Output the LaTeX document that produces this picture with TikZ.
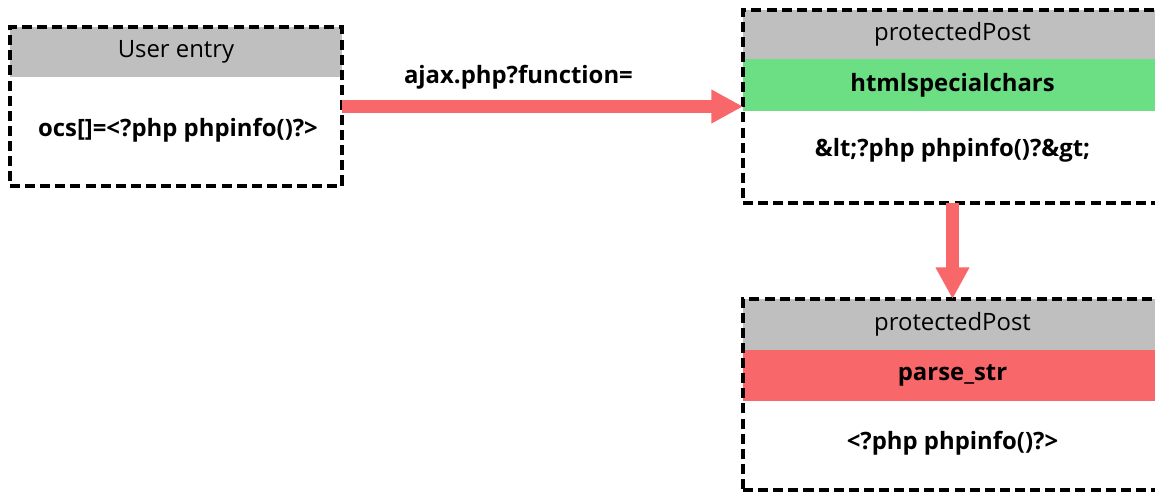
\documentclass[tikz,border=0pt]{standalone}
\usepackage{fontspec}
\setmainfont{Open Sans}
\usetikzlibrary{arrows.meta,positioning,backgrounds}

\definecolor{headgray}{HTML}{BFBFBF}
\definecolor{escgreen}{HTML}{6CDF84}
\definecolor{flowred}{HTML}{F8676A}

\tikzset{
    frame/.style={draw=black, line width=2.3pt, dash pattern=on 5.7pt off 2.9pt,
        inner sep=0pt, outer sep=0pt},
    band/.style={inner sep=0pt, outer sep=0pt, anchor=north, font=\fontsize{13.6}{16}\selectfont},
    bodytext/.style={font=\fontsize{13.6}{16}\selectfont\bfseries},
    flow/.style={draw=flowred, line width=7.4pt,
        -{Triangle[length=18pt, width=18pt]}}
}

\begin{document}
\begin{tikzpicture}[x=0.02cm, y=-0.02cm]
    % Canvas
    \clip (0,0) rectangle (1155,494);

    % Frames
    \node[frame, minimum width=6.64cm, minimum height=3.18cm] (entry) at (176,106.5) {};
    \node[frame, minimum width=8.38cm, minimum height=3.86cm] (post) at (952.5,106.5) {};
    \node[frame, minimum width=8.38cm, minimum height=3.82cm] (parse) at (952.5,394.5) {};

    % Header and filter bands
    \begin{scope}[on background layer]
        \node[band, fill=headgray, minimum width=6.64cm, minimum height=1.0cm] (entryhead) at (entry.north) {User entry};

        \node[band, fill=headgray, minimum width=8.38cm, minimum height=0.98cm] (posthead) at (post.north) {protectedPost};
        \node[band, fill=escgreen, minimum width=8.38cm, minimum height=1.04cm] (postband) at (posthead.south) {\bfseries htmlspecialchars};

        \node[band, fill=headgray, minimum width=8.38cm, minimum height=1.02cm] (parsehead) at (parse.north) {protectedPost};
        \node[band, fill=flowred, minimum width=8.38cm, minimum height=1.02cm] (parseband) at (parsehead.south) {\bfseries parse\_str};
    \end{scope}

    % Payloads
    \node[bodytext] (entrytext) at (178,130) {ocs[]=<?php phpinfo()?>};
    \node[bodytext] (posttext) at (952.5,150) {\&lt;?php phpinfo()?\&gt;};
    \node[bodytext] (parsetext) at (952.5,443) {<?php phpinfo()?>};

    % Request flow
    \draw[flow] (entry.east) -- (entry.east -| post.west)
        node[pos=0.44, above=3pt, bodytext] (call) {ajax.php?function=};
    \draw[flow] (post.south) -- (parse.north);
\end{tikzpicture}
\end{document}
